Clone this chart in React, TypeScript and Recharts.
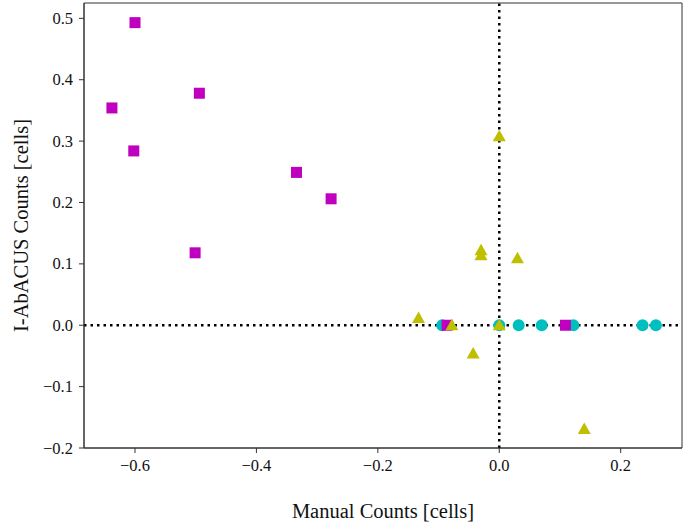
import React from 'react';
import { ScatterChart, Scatter, XAxis, YAxis, ReferenceLine, ReferenceArea } from 'recharts';

const cyanX = [-0.094, 0.0, 0.032, 0.07, 0.122, 0.236, 0.258];
const cyanY = [0, 0, 0, 0, 0, 0, 0];
const magentaX = [-0.6, -0.638, -0.602, -0.494, -0.501, -0.334, -0.277, -0.086, 0.109];
const magentaY = [0.493, 0.354, 0.284, 0.378, 0.118, 0.249, 0.206, 0, 0];
const yellowX = [0.0, -0.03, -0.03, 0.03, -0.133, -0.078, 0.0, -0.043, 0.14];
const yellowY = [0.308, 0.122, 0.114, 0.109, 0.012, 0, 0, -0.046, -0.169];

const xTicks = [-0.6, -0.4, -0.2, 0, 0.2];
const yTicks = [-0.2, -0.1, 0, 0.1, 0.2, 0.3, 0.4, 0.5];

const toPts = (xs: number[], ys: number[]) => xs.map((x, i) => ({ x, y: ys[i] }));
const cyan = toPts(cyanX, cyanY);
const magenta = toPts(magentaX, magentaY);
const yellow = toPts(yellowX, yellowY);

const fmt = (v: number) => {
  const s = v.toFixed(1);
  return v < 0 ? '\u2212' + s.slice(1) : s;
};

const FONT = 'Liberation Serif';

const Circle = (p: any) => <circle cx={p.cx} cy={p.cy} r={6} fill="#00bfbf" />;
const Square = (p: any) => <rect x={p.cx - 5.5} y={p.cy - 5.5} width={11} height={11} fill="#bf00bf" />;
const Tri = (p: any) => (
  <polygon
    points={`${p.cx},${p.cy - 6.5} ${p.cx - 6.5},${p.cy + 5} ${p.cx + 6.5},${p.cy + 5}`}
    fill="#bfbf00"
  />
);

function XTick(p: any) {
  return (
    <text x={p.x} y={p.y + 16} textAnchor="middle" fill="#111" fontSize={16.5} fontFamily={FONT}>
      {fmt(p.payload.value)}
    </text>
  );
}
function YTick(p: any) {
  return (
    <text x={p.x - 4} y={p.y + 5.5} textAnchor="end" fill="#111" fontSize={16.5} fontFamily={FONT}>
      {fmt(p.payload.value)}
    </text>
  );
}

const X0 = -0.684;
const X1 = 0.301;
const Y0 = -0.2;
const Y1 = 0.525;

export default function App() {
  return (
    <div style={{ position: 'absolute', left: 0, top: 0, background: '#fff' }}>
      <ScatterChart width={685} height={524} margin={{ top: 3, right: 3, bottom: 0, left: 0 }}>
        <XAxis
          type="number"
          dataKey="x"
          domain={[X0, X1]}
          ticks={xTicks}
          allowDataOverflow
          height={76}
          stroke="#333"
          tickSize={5}
          tick={<XTick />}
          label={{ value: 'Manual Counts [cells]', position: 'insideBottom', offset: 6, fill: '#111', fontSize: 20.5, fontFamily: FONT }}
        />
        <YAxis
          type="number"
          dataKey="y"
          domain={[Y0, Y1]}
          ticks={yTicks}
          allowDataOverflow
          width={84}
          stroke="#333"
          tickSize={5}
          tick={<YTick />}
          label={{ value: 'I-AbACUS Counts [cells]', angle: -90, position: 'insideLeft', offset: 21, style: { textAnchor: 'middle' }, fill: '#111', fontSize: 20.5, fontFamily: FONT }}
        />
        <ReferenceArea x1={X0} x2={X1} y1={Y0} y2={Y1} fill="none" stroke="#333" strokeWidth={1} />
        <ReferenceLine x={0} stroke="#000" strokeWidth={2.5} strokeDasharray="2.5 4" />
        <ReferenceLine y={0} stroke="#000" strokeWidth={2.5} strokeDasharray="2.5 4" />
        <Scatter data={cyan} shape={Circle} isAnimationActive={false} />
        <Scatter data={magenta} shape={Square} isAnimationActive={false} />
        <Scatter data={yellow} shape={Tri} isAnimationActive={false} />
      </ScatterChart>
    </div>
  );
}
